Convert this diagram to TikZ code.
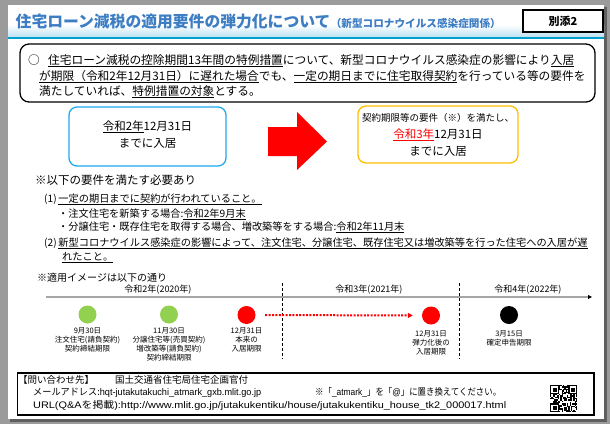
\documentclass[tikz,border=0pt]{standalone}
\usepackage{fontspec}
\setmainfont{Noto Sans CJK JP}
\newfontfamily\latn{Liberation Sans}
\usetikzlibrary{arrows.meta,positioning}
\definecolor{pagegray}{RGB}{155,155,155}
\definecolor{shadowgray}{RGB}{95,95,95}
\definecolor{titleblue}{RGB}{60,125,195}
\definecolor{barblue}{RGB}{190,226,242}
\definecolor{lineblue}{RGB}{0,160,205}
\definecolor{boxblue}{RGB}{30,170,240}
\definecolor{boxorange}{RGB}{255,190,0}
\definecolor{dotgreen}{RGB}{146,208,80}
\definecolor{axisgray}{RGB}{166,166,166}
\newsavebox\ulbox
\newcommand\fs[2]{\fontsize{#1}{#2}\selectfont}
\newcommand\ul[1]{\leavevmode{\sbox\ulbox{#1}\rlap{\rule[-2.2pt]{\wd\ulbox}{0.6pt}}\usebox\ulbox}}
\newcommand\fitw[2]{\resizebox{#1}{\height}{#2}}
\begin{document}
\begin{tikzpicture}[x=1pt,y=-1pt,
    txt/.style={inner sep=0,anchor=base west},
    ctxt/.style={inner sep=0,anchor=base},
    datebox/.style={draw,rounded corners=8,line width=1.3,minimum width=157,minimum height=59,align=center,inner sep=0},
    dot/.style={circle,minimum size=18,inner sep=0},
    lbl/.style={anchor=north,inner sep=0,align=center,font=\fs{7.5}{9}},
    yr/.style={anchor=base,inner sep=0,font=\fs{9}{11}},
    yearline/.style={dash pattern=on 3pt off 2pt,line width=0.8}]
  \useasboundingbox (0,0) rectangle (610,424);
  \fill[pagegray] (0,0) rectangle (610,424);
  \fill[shadowgray] (10,7) rectangle (606.5,421.5);
  \fill[white] (8,5) rectangle (604,419);
  \shade[top color=white,bottom color=barblue] (8,25) rectangle (604,36.5);
  \fill[lineblue] (8,36.5) rectangle (604,39);
  \node[txt,text=titleblue,font=\fs{15.8}{18}\bfseries] (title) at (15.5,27) {住宅ローン減税の適用要件の弾力化について};
  \node[txt,text=titleblue,font=\fs{10.6}{12}\bfseries] (subtitle) at (title.base east) {\fitw{170pt}{（新型コロナウイルス感染症関係）}};
  \node[draw,fill=white,line width=1.6,minimum width=80,minimum height=22,font=\fs{11}{13}\bfseries] (annex) at (563,21) {別添2};
  \draw[line width=1.3,rounded corners=9] (20,44) rectangle (595,102);
  \node[txt,font=\fs{11.7}{14}] (circ) at (28,64.4) {○};
  \node[txt,font=\fs{11.7}{14}] (l1) at (48,64.4) {\ul{住宅ローン減税の控除期間13年間の特例措置}について、新型コロナウイルス感染症の影響により\ul{入居}};
  \node[txt,font=\fs{11.7}{14}] (l2) at (39,80.4) {\ul{が期限（令和2年12月31日）に遅れた場合}でも、\ul{一定の期日までに住宅取得契約}を行っている等の要件を};
  \node[txt,font=\fs{11.7}{14}] (l3) at (39,95.4) {満たしていれば、\ul{特例措置の対象}とする。};
  \node[datebox,draw=boxblue] (before) at (147.5,136.5) {};
  \node[ctxt,font=\fs{11.5}{14}] (b1) at (147.5,130.4) {\ul{令和2年}12月31日};
  \node[ctxt,font=\fs{11.5}{14}] (b2) at (147.5,147.4) {までに入居};
  \node[datebox,draw=boxorange,minimum width=160,minimum height=57,font=\fs{11.5}{17}] (after) at (438,134.5) {{\fs{9.5}{17}契約期限等の要件（※）を満たし、}\\{\color{red}\ul{令和3年}}12月31日\\までに入居};
  \fill[red] (268,127) -- (297,127) -- (297,112) -- (327,141.5) -- (297,170) -- (297,156) -- (268,156) -- cycle;
  \node[txt,font=\fs{11.5}{14}] (req) at (35,184.4) {※以下の要件を満たす必要あり};
  \node[txt,font=\fs{10.2}{12}] (r1) at (44,202) {(1)\,\ul{一定の期日までに契約が行われていること。}};
  \node[txt,font=\fs{10.2}{12}] (r1a) at (58,217) {・注文住宅を新築する場合:\ul{令和2年9月末}};
  \node[txt,font=\fs{10.2}{12}] (r1b) at (58,230) {・分譲住宅・既存住宅を取得する場合、増改築等をする場合:\ul{令和2年11月末}};
  \node[txt,font=\fs{10.2}{12}] (r2) at (44,246) {(2)\,\ul{新型コロナウイルス感染症の影響によって、注文住宅、分譲住宅、既存住宅又は増改築等を行った住宅への入居が遅}};
  \node[txt,font=\fs{10.2}{12}] (r2b) at (62,260) {\ul{れたこと。}};
  \node[txt,font=\fs{10}{12}] (sample) at (37,281) {※適用イメージは以下の通り};
  \coordinate (ax0) at (46,297);
  \coordinate (ax1) at (592,297);
  \draw[axisgray,line width=1.5,-{Triangle[black,length=4pt,width=4pt]}] (ax0) -- (ax1);
  \node[yr] (y2020) at (158,292.5) {令和2年(2020年)};
  \node[yr] (y2021) at (369,292.5) {令和3年(2021年)};
  \node[yr] (y2022) at (528,292.5) {令和4年(2022年)};
  \coordinate (v1) at (282.5,283);
  \coordinate (v2) at (459,283);
  \draw[yearline] (v1) -- ++(0,76);
  \draw[yearline] (v2) -- ++(0,76);
  \node[dot,fill=dotgreen] (d1) at (87.5,314.5) {};
  \node[dot,fill=dotgreen] (d2) at (169,314.5) {};
  \node[dot,fill=red] (d3) at (246.5,315) {};
  \node[dot,fill=red] (d4) at (431,315.5) {};
  \node[dot,fill=black] (d5) at (509,315) {};
  \draw[red,line width=2,dash pattern=on 2pt off 1.4pt,-{Triangle[length=5pt,width=5pt]},shorten <=9.5pt,shorten >=9pt] (d3) -- (d4);
  \node[lbl,below=4pt of d1] (t1) {9月30日\\注文住宅(請負契約)\\契約締結期限};
  \node[lbl,below=4pt of d2] (t2) {11月30日\\分譲住宅等(売買契約)\\増改築等(請負契約)\\契約締結期限};
  \node[lbl,below=3pt of d3] (t3) {12月31日\\本来の\\入居期限};
  \node[lbl,below=6pt of d4] (t4) {12月31日\\弾力化後の\\入居期限};
  \node[lbl,below=6pt of d5] (t5) {3月15日\\確定申告期限};
  \draw[line width=1.8] (17.5,373) rectangle (594,415);
  \node[txt,font=\fs{9.5}{11}] (ask) at (18,383) {【問い合わせ先】};
  \node[txt,font=\fs{9.5}{11}] (dept) at (115,383) {国土交通省住宅局住宅企画官付};
  \node[txt,font=\fs{9.5}{11}] (mail) at (33,395.5) {\fitw{228pt}{メールアドレス:{\latn hqt-jutakutakuchi\_atmark\_gxb.mlit.go.jp}}};
  \node[txt,font=\fs{9.5}{11}] (note) at (315,395.5) {\fitw{186pt}{※「{\latn \_atmark\_}」を「{\latn @}」に置き換えてください。}};
  \node[txt,font=\fs{9.5}{11}] (url) at (33,408) {\fitw{473pt}{{\latn URL(Q\&A}を掲載{\latn ):http://www.mlit.go.jp/jutakukentiku/house/jutakukentiku\_house\_tk2\_000017.html}}};
  \pgfmathsetseed{7}
  \foreach \i in {0,...,20}{
    \foreach \j in {0,...,20}{
      \pgfmathrandominteger{\q}{0}{1}
      \ifnum\q=1 \fill (550+\i*1.3,385+\j*1.3) rectangle ++(1.3,1.3);\fi
    }
  }
  \foreach \cx/\cy in {550/385,568.2/385,550/403.2}{
    \fill[white] (\cx,\cy) rectangle ++(9.1,9.1);
    \fill (\cx,\cy) rectangle ++(9.1,9.1);
    \fill[white] (\cx+1.3,\cy+1.3) rectangle ++(6.5,6.5);
    \fill (\cx+2.6,\cy+2.6) rectangle ++(3.9,3.9);
  }
\end{tikzpicture}
\end{document}
